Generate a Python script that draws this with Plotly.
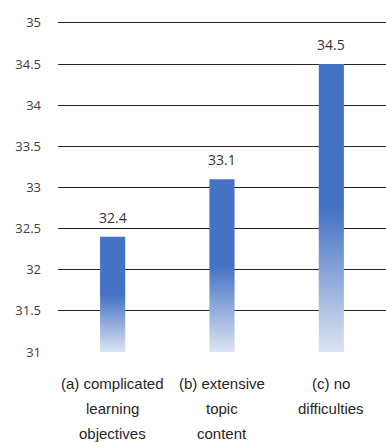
import plotly.graph_objects as go

# Chart data
categories = ["(a) complicated learning objectives", "(b) extensive topic content", "(c) no difficulties"]
category_lines = [["(a) complicated", "learning", "objectives"],
                  ["(b) extensive", "topic", "content"],
                  ["(c) no", "difficulties"]]
values = [32.4, 33.1, 34.5]
y_ticks = [31, 31.5, 32, 32.5, 33, 33.5, 34, 34.5, 35]
y_tick_labels = ["31", "31.5", "32", "32.5", "33", "33.5", "34", "34.5", "35"]

Y_MIN, Y_MAX = 31, 35
BAR_WIDTH = 0.23
BLUE = "#4472C4"
LIGHT = "#DCE4F3"
TEXT = "#404040"
LABEL_FONT = "Liberation Sans Narrow, Liberation Sans, sans-serif"

fig = go.Figure()
xs = list(range(len(categories)))

# Bars with a vertical gradient: solid blue on top, fading toward the baseline
for i, v in enumerate(values):
    x0, x1 = xs[i] - BAR_WIDTH / 2, xs[i] + BAR_WIDTH / 2
    fig.add_trace(go.Scatter(
        x=[x0, x1, x1, x0, x0],
        y=[Y_MIN, Y_MIN, v, v, Y_MIN],
        mode="lines",
        line=dict(width=0),
        fill="toself",
        fillgradient=dict(
            type="vertical",
            start=Y_MIN,
            stop=v,
            colorscale=[[0, LIGHT], [0.5, BLUE], [1, BLUE]],
        ),
        hoverinfo="skip",
        showlegend=False,
    ))

# Value labels above bars
for i, v in enumerate(values):
    fig.add_annotation(x=xs[i], y=v, text=f"{v}", showarrow=False,
                       yanchor="bottom", yshift=8,
                       font=dict(family="Open Sans, sans-serif", size=14, color="#333333"))

# Category labels, one line per annotation
for i, lines in enumerate(category_lines):
    for j, line in enumerate(lines):
        fig.add_annotation(x=xs[i], y=0, xref="x", yref="paper", text=line,
                           showarrow=False, yanchor="middle",
                           yshift=-31 - 25 * j,
                           font=dict(family=LABEL_FONT, size=15, color="#262626"))

fig.update_layout(
    width=386, height=442,
    margin=dict(l=58, r=0, t=20, b=90),
    plot_bgcolor="white", paper_bgcolor="white",
    showlegend=False,
    xaxis=dict(range=[-0.5, len(categories) - 0.5], showticklabels=False,
               showgrid=False, zeroline=False, showline=False, fixedrange=True),
    yaxis=dict(range=[Y_MIN, Y_MAX + 0.035], tickvals=y_ticks, ticktext=y_tick_labels,
               showgrid=True, gridcolor="#262626", gridwidth=1,
               zeroline=False, showline=False, ticks="", ticklabelstandoff=16,
               tickfont=dict(family="Open Sans, sans-serif", size=13, color=TEXT),
               fixedrange=True),
)

fig.write_html("out.html")
